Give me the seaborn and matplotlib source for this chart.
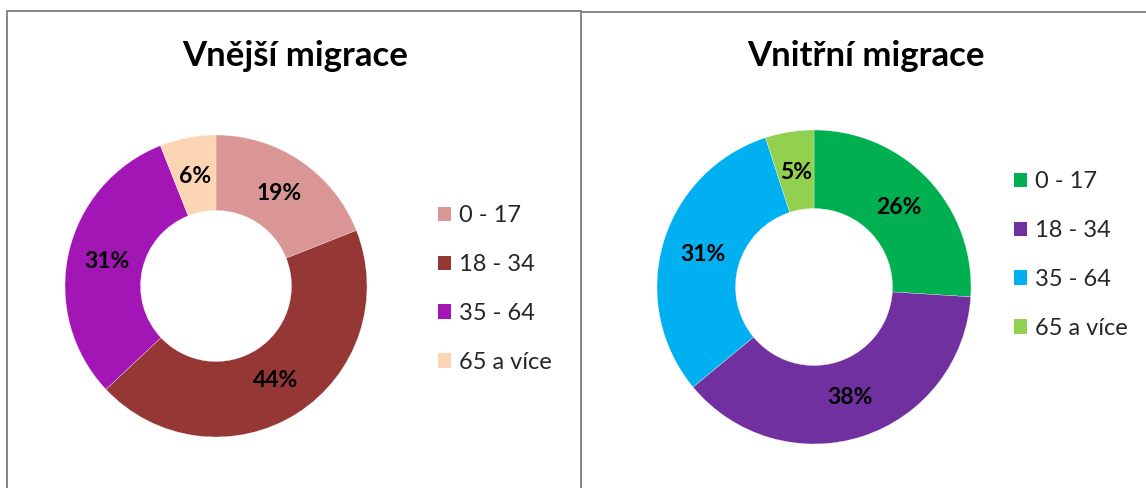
import matplotlib
matplotlib.use("Agg")
import matplotlib.pyplot as plt
import seaborn as sns
from matplotlib.lines import Line2D
from matplotlib.patches import Patch

sns.set_theme(style="white")
plt.rcParams['font.family'] = ['Lato', 'DejaVu Sans']

categories = ["0 - 17", "18 - 34", "35 - 64", "65 a více"]
ext_values = [19, 44, 31, 6]
int_values = [26, 38, 31, 5]
ext_title = "Vnější migrace"
int_title = "Vnitřní migrace"
ext_colors = ["#D99694", "#953735", "#A316B6", "#FCD5B5"]
int_colors = ["#00B050", "#7030A0", "#00B0F0", "#92D050"]

W, H = 1146, 488
fig = plt.figure(figsize=(W / 100, H / 100), dpi=100)
fig.patch.set_facecolor("white")


def px_axes(cx, cy, r):
    return fig.add_axes([(cx - r) / W, (H - cy - r) / H, 2 * r / W, 2 * r / H])


def donut(ax, values, colors):
    ax.pie(values, colors=colors, startangle=90, counterclock=False,
           radius=1.0, pctdistance=0.74,
           autopct=lambda p: f"{p:.0f}%",
           wedgeprops=dict(width=0.5, edgecolor="white", linewidth=0.2),
           textprops=dict(fontsize=16.5, fontweight="bold", color="black"))
    ax.set_xlim(-1, 1)
    ax.set_ylim(-1, 1)
    ax.set_aspect("equal")
    ax.axis("off")


ax1 = px_axes(216, 286, 151)
donut(ax1, ext_values, ext_colors)
ax2 = px_axes(814, 287, 157)
donut(ax2, int_values, int_colors)

fig.text(295 / W, (H - 66) / H, ext_title, ha="center", va="baseline",
         fontsize=25, fontweight="bold", color="black")
fig.text(866 / W, (H - 66) / H, int_title, ha="center", va="baseline",
         fontsize=25, fontweight="bold", color="black")


def legend(colors, x, y):
    handles = [Patch(facecolor=c, edgecolor="none") for c in colors]
    fig.legend(handles, categories, loc="center left",
               bbox_to_anchor=(x / W, (H - y) / H), frameon=False,
               fontsize=17, handlelength=0.55, handleheight=0.55,
               handletextpad=0.35, labelspacing=1.18, borderpad=0,
               borderaxespad=0)


legend(ext_colors, 438, 289)
legend(int_colors, 1014, 255)

gray = "#888888"
lw = 2
def line(x0, y0, x1, y1):
    fig.add_artist(Line2D([x0 / W, x1 / W], [(H - y0) / H, (H - y1) / H],
                          color=gray, linewidth=lw * 72 / 100))

line(7, 11, 581, 11)
line(581, 12, W, 12)
line(7, 11, 7, H)
line(581, 11, 581, H)

fig.savefig("out.png", dpi=100, facecolor="white")
